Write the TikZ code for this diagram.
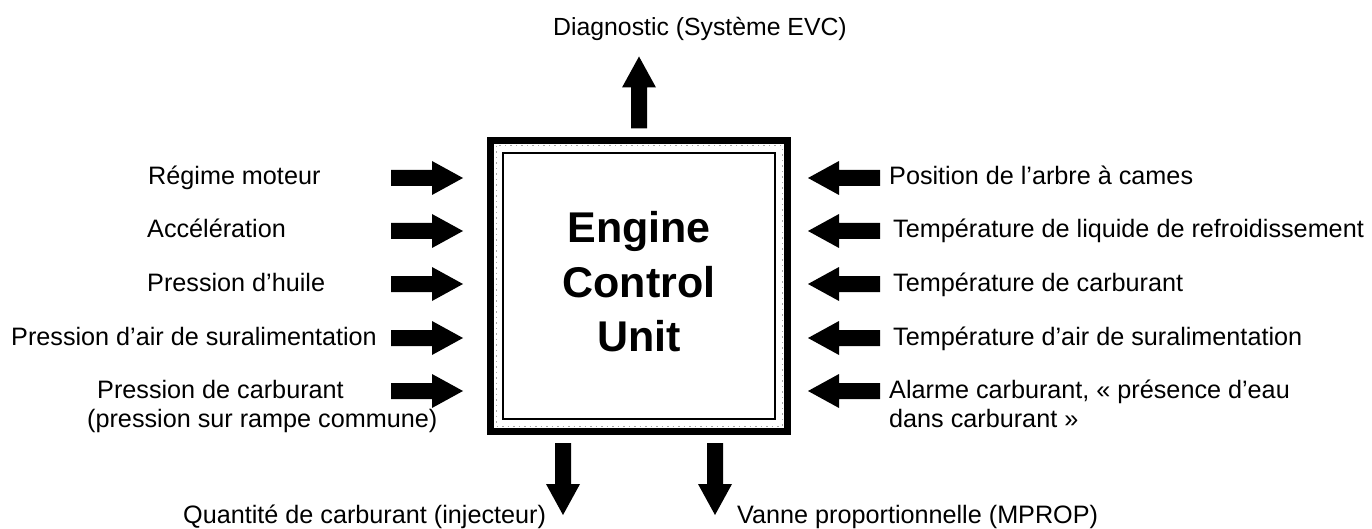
\documentclass[tikz,border=0pt]{standalone}
\usepackage{fontspec}
\setmainfont{Liberation Sans}
\begin{document}
\begin{tikzpicture}[x=1pt,y=-1pt,
  lbl/.style={font=\fontsize{25.2}{29}\selectfont, inner sep=0pt, anchor=base west},
  ecu/.style={font=\fontsize{43}{50}\selectfont\bfseries, inner sep=0pt, anchor=base},
  pics/barrow/.style={code={\fill[black] (-36,-8) -- (5,-8) -- (5,-17) -- (36,0) -- (5,17) -- (5,8) -- (-36,8) -- cycle;}}]
\useasboundingbox (0,0) rectangle (1372,529);
% box
\node (ecubox) [draw, line width=7pt, minimum width=297pt, minimum height=291pt, inner sep=0pt] at (639,286) {};
\node (inner) [draw, line width=2.5pt, minimum width=272pt, minimum height=266pt, inner sep=0pt] at (639,286) {};
\draw[gray!70, line width=1pt, dash pattern=on 1.5pt off 4pt] (496,146) rectangle (782,426);
\node (e1) [ecu] at (639,243) {Engine};
\node (e2) [ecu] at (639,297) {Control};
\node (e3) [ecu] at (639,351) {Unit};
% top
\pic (up) [rotate=90] at (639,92.5) {barrow};
\node (diag) [lbl, font=\fontsize{24.8}{29}\selectfont] at (553,36) {Diagnostic (Système EVC)};
% left
\node (l1) [lbl] at (148,185) {Régime moteur};
\node (l2) [lbl] at (147,238) {Accélération};
\node (l3) [lbl] at (147,291) {Pression d’huile};
\node (l4) [lbl] at (11,345) {Pression d’air de suralimentation};
\node (l5) [lbl] at (97,398) {Pression de carburant};
\node (l6) [lbl] at (87,427) {(pression sur rampe commune)};
\pic (la1) at (427,178) {barrow};
\pic (la2) at (427,231) {barrow};
\pic (la3) at (427,284) {barrow};
\pic (la4) at (427,338) {barrow};
\pic (la5) at (427,391) {barrow};
% right
\node (r1) [lbl] at (889,185) {Position de l’arbre à cames};
\node (r2) [lbl] at (893,238) {Température de liquide de refroidissement};
\node (r3) [lbl] at (893,291) {Température de carburant};
\node (r4) [lbl] at (893,345) {Température d’air de suralimentation};
\node (r5) [lbl] at (889,398) {Alarme carburant, « présence d’eau};
\node (r6) [lbl] at (889,427) {dans carburant »};
\pic (ra1) [rotate=180] at (844,178) {barrow};
\pic (ra2) [rotate=180] at (844,231) {barrow};
\pic (ra3) [rotate=180] at (844,284) {barrow};
\pic (ra4) [rotate=180] at (844,338) {barrow};
\pic (ra5) [rotate=180] at (844,391) {barrow};
% bottom
\pic (d1) [rotate=-90] at (563,479) {barrow};
\pic (d2) [rotate=-90] at (715,479) {barrow};
\node (b1) [lbl] at (183,523) {Quantité de carburant (injecteur)};
\node (b2) [lbl] at (737,523) {Vanne proportionnelle (MPROP)};
\end{tikzpicture}
\end{document}
